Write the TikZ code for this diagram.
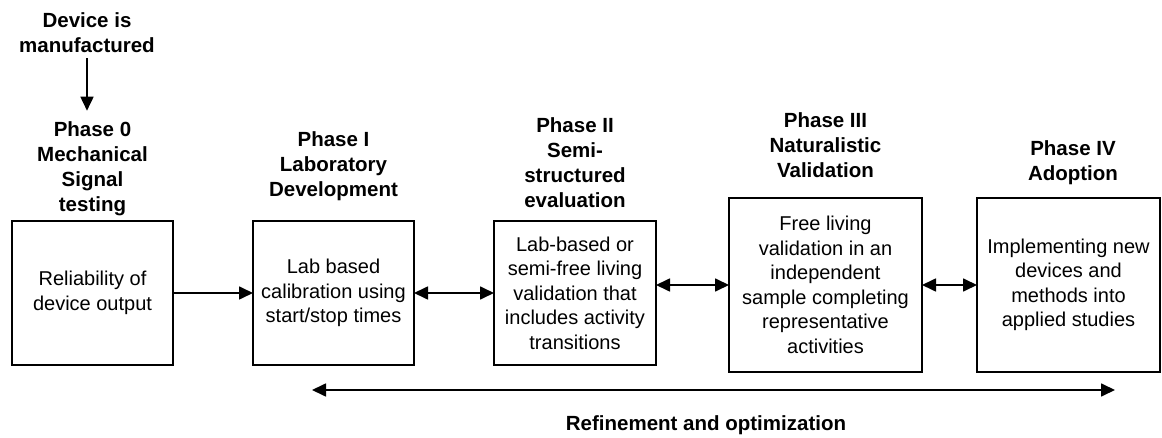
\documentclass[tikz,border=0pt]{standalone}
\usepackage{fontspec}
\setmainfont{Liberation Sans}
\usetikzlibrary{arrows.meta}
\begin{document}
\begin{tikzpicture}[x=1pt,y=-1pt,
 box/.style={draw,line width=1.4pt,align=center,font=\fontsize{20}{24.5}\selectfont,inner sep=0pt,outer sep=0pt},
 ttl/.style={align=center,font=\fontsize{20.5}{25}\selectfont\bfseries,inner sep=0pt},
 arr/.style={line width=1.7pt,-{Triangle[length=14pt,width=13pt]}},
 darr/.style={line width=1.7pt,{Triangle[length=14pt,width=13pt]}-{Triangle[length=14pt,width=13pt]}}]
\useasboundingbox (0,0) rectangle (1162,438);
% boxes
\node[box,minimum width=161pt,minimum height=144pt] (b0) at (92.5,293) {Reliability of\\device output};
\node[box,minimum width=161pt,minimum height=144pt] (b1) at (333.5,293) {Lab based\\calibration using\\start/stop times};
\node[box,minimum width=162pt,minimum height=144pt] (b2) at (575,293) {Lab-based or\\semi-free living\\validation that\\includes activity\\transitions};
\node[box,minimum width=193pt,minimum height=174pt] (b3) at (825.5,285) {Free living\\validation in an\\independent\\sample completing\\representative\\activities};
\node[box,minimum width=183pt,minimum height=174pt] (b4) at (1068.5,285) {Implementing new\\devices and\\methods into\\applied studies};
% titles
\node[ttl] (dev) at (87,33) {Device is\\manufactured};
\node[ttl] (t0) at (92.5,169) {Phase 0\\Mechanical\\Signal\\testing};
\node[ttl] (t1) at (333.5,166) {Phase I\\Laboratory\\Development};
\node[ttl] (t2) at (575,163) {Phase II\\Semi-\\structured\\evaluation};
\node[ttl] (t3) at (825.5,145) {Phase III\\Naturalistic\\Validation};
\node[ttl] (t4) at (1073,163) {Phase IV\\Adoption};
\node[ttl] (ref) at (706,425) {Refinement and optimization};
% connectors
\draw[arr,shorten <=5pt,shorten >=11pt] (dev.south -| 87,0) -- (t0.north -| 87,0);
\draw[arr] (b0) -- (b1);
\draw[darr] (b1) -- (b2);
\draw[darr] (b3.west -| b2.east) -- (b3.west);
\draw[darr] (b3) -- (b4);
\coordinate (rl) at (312,390);
\coordinate (rr) at (1115,390);
\draw[darr] (rl) -- (rr);
\end{tikzpicture}
\end{document}
